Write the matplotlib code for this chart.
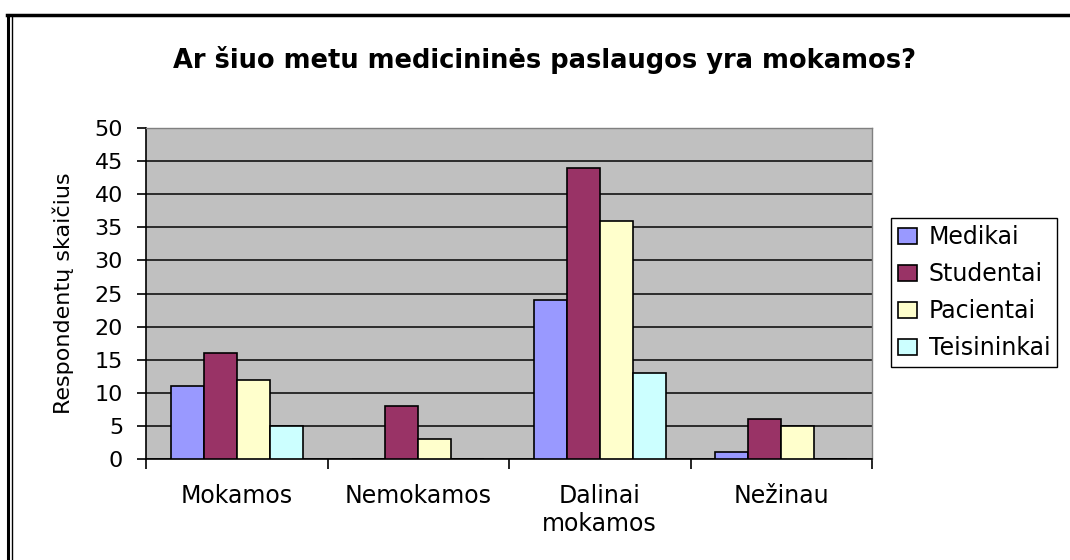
import numpy as np
import matplotlib.pyplot as plt
from matplotlib.lines import Line2D

plt.rcParams['font.family'] = ['DejaVu Sans']

# data
categories = ['Mokamos', 'Nemokamos', 'Dalinai\nmokamos', 'Nežinau']
series_names = ['Medikai', 'Studentai', 'Pacientai', 'Teisininkai']
medikai = [11, 0, 24, 1]
studentai = [16, 8, 44, 6]
pacientai = [12, 3, 36, 5]
teisininkai = [5, 0, 13, 0]
colors = ['#9999FF', '#993366', '#FFFFCC', '#CCFFFF']

fig = plt.figure(figsize=(10.7, 5.6), dpi=100)
ax = fig.add_axes([146 / 1070, 1 - 459 / 560, (872 - 146) / 1070, (459 - 128) / 560])
ax.set_facecolor('#C0C0C0')

x = np.arange(len(categories))
width = 1 / 5.5
all_series = [medikai, studentai, pacientai, teisininkai]
for i, (vals, name, col) in enumerate(zip(all_series, series_names, colors)):
    offs = (i - 1.5) * width
    ax.bar(x + offs, vals, width, color=col, edgecolor='black', linewidth=1.2,
           label=name, zorder=3)

ax.set_xlim(-0.5, 3.5)
ax.set_ylim(0, 50)
ax.set_yticks(range(0, 51, 5))
ax.yaxis.grid(True, color='#202020', linewidth=1.3, zorder=1)
ax.set_axisbelow(True)

ax.set_xticks(x)
ax.set_xticklabels(categories, fontsize=17, linespacing=1.2)
ax.set_xticks(np.arange(-0.5, 4, 1), minor=True)
ax.tick_params(axis='x', which='major', length=0, pad=18)
ax.tick_params(axis='x', which='minor', length=7, width=1.2, direction='out')
ax.tick_params(axis='y', length=6.5, width=1.2, labelsize=16, pad=10)

for s in ['left', 'bottom']:
    ax.spines[s].set_color('black')
    ax.spines[s].set_linewidth(1.2)
for s in ['top', 'right']:
    ax.spines[s].set_color('#808080')
    ax.spines[s].set_linewidth(1.0)

ax.set_ylabel('Respondentų skaičius', fontsize=16, labelpad=15)
fig.text(544.5 / 1070, 1 - 60 / 560,
         'Ar šiuo metu medicininės paslaugos yra mokamos?',
         ha='center', va='center', fontsize=18.5, fontweight='bold')

leg = ax.legend(loc='upper left', bbox_to_anchor=(891 / 1070, 1 - 218 / 560),
                bbox_transform=fig.transFigure, fontsize=17, frameon=True,
                fancybox=False, edgecolor='black', framealpha=1,
                handlelength=0.8, handleheight=0.65, handletextpad=0.5,
                borderpad=0.3, labelspacing=0.55, borderaxespad=0)
leg.get_frame().set_linewidth(1.0)

# outer frame (top and left edges visible)
fig.add_artist(Line2D([7 / 1070, 1], [1 - 14.5 / 560] * 2, color='black', linewidth=2.5,
                      transform=fig.transFigure))
fig.add_artist(Line2D([8 / 1070] * 2, [0, 1 - 14.5 / 560], color='black', linewidth=2.2,
                      transform=fig.transFigure))
fig.add_artist(Line2D([11.5 / 1070] * 2, [0, 1 - 17 / 560], color='black', linewidth=1.0,
                      transform=fig.transFigure))

fig.savefig('out.png', dpi=100)
